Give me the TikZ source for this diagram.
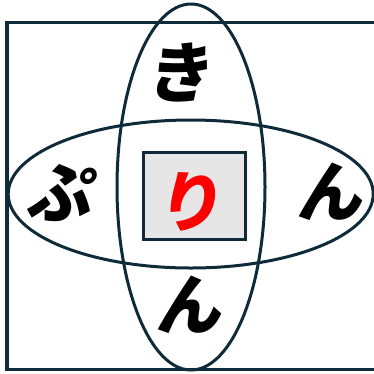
\documentclass[tikz,border=0pt]{standalone}
\usepackage{fontspec}
\usepackage{xcolor}
\usetikzlibrary{positioning}
\newfontfamily\jpfont{Noto Sans CJK JP}
\definecolor{linenavy}{HTML}{0F2B3A}
\definecolor{boxgray}{HTML}{E6E6E6}
\definecolor{kanared}{HTML}{FF0000}

\begin{document}
\begin{tikzpicture}[
    x=1pt, y=-1pt,
    frame/.style={draw=linenavy, line width=3.5pt},
    ring/.style={draw=linenavy, line width=3pt},
    kana/.style={font=\jpfont\bfseries\fontsize{66}{66}\selectfont, inner sep=0pt, xslant=0.15}
  ]
  \useasboundingbox (0,0) rectangle (374,373);
  \clip (0,0) rectangle (374,373);
  \draw[frame] (7,22.7) rectangle (390,369.5);
  \draw[ring] (191,187) ellipse [x radius=74, y radius=183];
  \draw[ring] (190.7,194) ellipse [x radius=182.5, y radius=74];
  \node[draw=linenavy, fill=boxgray, line width=3pt, minimum width=102pt, minimum height=87pt] (core) at (194.5,196.3) {};
  \node[kana] (top) at (182,73) {き};
  \node[kana] (left) at (62,193) {ぷ};
  \node[kana] (right) at (333,192) {ん};
  \node[kana] (bottom) at (192,305) {ん};
  \node[kana, text=kanared] (mid) at (193,202) {り};
\end{tikzpicture}
\end{document}
